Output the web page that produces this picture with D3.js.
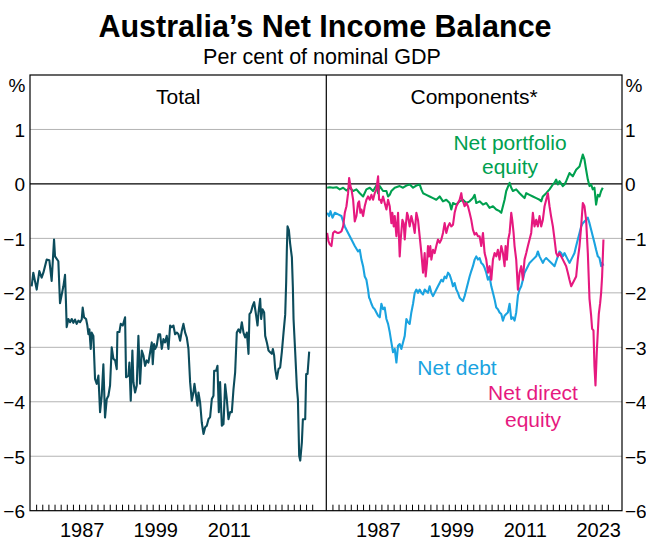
<!DOCTYPE html>
<html><head><meta charset="utf-8">
<script src="https://cdn.jsdelivr.net/npm/d3@7"></script>
<style>
body{margin:0;background:#fff}
svg{display:block}
text{font-family:"Liberation Sans",Arial,Helvetica,sans-serif;fill:#000}
</style>
</head><body>
<svg id="chart" width="646" height="541"></svg>
<script>
// ---- data (year, per cent of nominal GDP) ----
const totalData = [[1979.27,-1.88],[1979.54,-1.63],[1980.09,-1.94],[1980.52,-1.60],[1980.90,-1.72],[1981.18,-1.63],[1981.72,-1.39],[1982.15,-1.40],[1982.53,-1.78],[1982.92,-1.02],[1983.08,-1.33],[1983.62,-1.42],[1983.89,-2.19],[1984.44,-1.88],[1984.71,-1.67],[1984.87,-2.20],[1984.98,-2.63],[1985.25,-2.48],[1985.53,-2.54],[1985.80,-2.48],[1986.07,-2.55],[1986.34,-2.49],[1986.61,-2.57],[1986.88,-2.51],[1987.16,-2.54],[1987.43,-2.49],[1987.59,-2.27],[1987.81,-2.45],[1988.14,-2.48],[1988.35,-2.60],[1988.52,-2.76],[1988.68,-2.67],[1988.90,-3.03],[1989.06,-2.73],[1989.33,-2.79],[1989.60,-3.58],[1989.88,-3.67],[1990.15,-3.52],[1990.42,-4.19],[1990.69,-3.89],[1990.96,-3.31],[1991.23,-4.29],[1991.51,-3.95],[1991.78,-3.89],[1992.05,-3.70],[1992.32,-3.00],[1992.59,-3.21],[1992.87,-3.24],[1993.14,-3.40],[1993.25,-2.72],[1993.57,-2.72],[1993.79,-2.57],[1994.12,-2.60],[1994.50,-2.45],[1994.66,-3.55],[1995.04,-3.52],[1995.20,-3.28],[1995.42,-3.98],[1995.69,-3.06],[1995.86,-3.64],[1996.13,-3.83],[1996.40,-3.70],[1996.67,-2.79],[1996.94,-3.67],[1997.22,-3.06],[1997.49,-3.15],[1997.76,-3.34],[1998.03,-3.24],[1998.30,-3.28],[1998.58,-3.09],[1998.85,-2.91],[1999.01,-3.31],[1999.23,-2.94],[1999.39,-3.03],[1999.66,-2.97],[1999.94,-2.76],[2000.21,-2.76],[2000.48,-3.03],[2000.75,-2.85],[2001.02,-2.91],[2001.29,-2.79],[2001.57,-3.03],[2001.84,-2.60],[2002.11,-2.63],[2002.38,-2.60],[2002.65,-2.76],[2002.93,-2.73],[2003.20,-2.76],[2003.47,-2.88],[2003.74,-2.70],[2004.01,-2.57],[2004.29,-2.73],[2004.56,-2.82],[2004.83,-3.03],[2005.10,-3.64],[2005.37,-3.98],[2005.64,-3.83],[2005.81,-3.67],[2006.08,-3.89],[2006.30,-4.07],[2006.46,-3.83],[2006.73,-4.01],[2007.00,-4.38],[2007.28,-4.59],[2007.55,-4.47],[2007.82,-4.44],[2008.09,-4.32],[2008.36,-4.28],[2008.64,-3.95],[2008.91,-3.89],[2009.02,-3.43],[2009.34,-3.43],[2009.56,-3.34],[2009.78,-4.19],[2009.99,-3.64],[2010.27,-4.44],[2010.54,-4.41],[2010.81,-3.68],[2011.08,-3.95],[2011.35,-4.32],[2011.63,-4.19],[2011.90,-4.19],[2012.17,-3.77],[2012.44,-3.46],[2012.71,-2.73],[2012.99,-2.67],[2013.26,-2.73],[2013.53,-2.54],[2013.80,-2.73],[2014.07,-2.82],[2014.35,-2.73],[2014.62,-3.12],[2014.78,-2.39],[2015.00,-2.36],[2015.32,-2.23],[2015.54,-2.17],[2015.87,-2.42],[2016.09,-2.60],[2016.25,-2.36],[2016.52,-2.11],[2016.68,-2.48],[2016.90,-2.30],[2017.17,-2.36],[2017.34,-2.79],[2017.61,-2.91],[2017.88,-3.06],[2018.15,-3.09],[2018.42,-3.12],[2018.59,-3.03],[2018.80,-3.15],[2018.97,-3.40],[2019.24,-3.58],[2019.51,-3.40],[2019.78,-3.37],[2020.05,-3.09],[2020.33,-2.73],[2020.60,-2.40],[2020.76,-1.80],[2020.87,-1.20],[2020.98,-0.78],[2021.20,-0.85],[2021.41,-1.10],[2021.69,-1.35],[2021.85,-1.90],[2021.96,-2.48],[2022.23,-3.09],[2022.50,-3.73],[2022.67,-3.95],[2022.88,-4.99],[2023.05,-5.08],[2023.32,-4.74],[2023.48,-4.32],[2023.86,-4.32],[2024.02,-3.49],[2024.24,-3.49],[2024.51,-3.08]];

const portfolioData = [[1979.14,-0.07],[1979.57,-0.06],[1980.11,-0.07],[1980.66,-0.06],[1981.20,-0.10],[1981.75,-0.07],[1982.29,-0.12],[1982.83,-0.07],[1983.38,-0.13],[1983.92,-0.10],[1984.47,-0.17],[1985.01,-0.23],[1985.55,-0.10],[1986.10,-0.07],[1986.64,-0.13],[1987.18,-0.03],[1987.46,-0.17],[1987.73,-0.04],[1988.27,-0.13],[1988.82,-0.13],[1989.09,-0.23],[1989.36,-0.20],[1989.63,-0.13],[1990.18,-0.07],[1990.99,-0.04],[1991.53,-0.07],[1992.08,-0.03],[1992.62,-0.01],[1992.89,-0.04],[1993.17,-0.07],[1993.71,-0.03],[1994.25,-0.01],[1994.53,-0.10],[1994.80,-0.17],[1995.34,-0.20],[1995.88,-0.23],[1996.43,-0.26],[1996.97,-0.29],[1997.52,-0.23],[1998.06,-0.32],[1998.60,-0.29],[1999.15,-0.35],[1999.42,-0.47],[1999.69,-0.35],[2000.24,-0.38],[2000.78,-0.32],[2001.32,-0.29],[2001.87,-0.35],[2002.41,-0.32],[2002.95,-0.26],[2003.23,-0.20],[2003.50,-0.35],[2004.04,-0.32],[2004.59,-0.38],[2005.13,-0.35],[2005.67,-0.44],[2006.22,-0.41],[2006.76,-0.47],[2007.30,-0.50],[2007.58,-0.53],[2007.85,-0.41],[2008.12,-0.29],[2008.39,-0.13],[2008.94,0.02],[2009.21,-0.07],[2009.48,-0.13],[2010.02,-0.10],[2010.57,-0.17],[2011.11,-0.23],[2011.38,-0.26],[2011.66,-0.17],[2012.20,-0.20],[2012.74,-0.23],[2013.29,-0.26],[2013.83,-0.29],[2014.10,-0.32],[2014.37,-0.23],[2014.92,-0.17],[2015.46,-0.10],[2016.01,-0.01],[2016.28,0.02],[2016.55,0.08],[2016.82,-0.01],[2017.09,0.05],[2017.64,-0.04],[2017.91,-0.01],[2018.18,0.05],[2018.72,0.20],[2019.00,0.17],[2019.27,0.14],[2019.54,0.20],[2019.81,0.26],[2020.36,0.32],[2020.90,0.54],[2021.17,0.45],[2021.44,0.26],[2021.72,0.08],[2021.99,-0.04],[2022.26,-0.01],[2022.53,-0.10],[2022.80,-0.07],[2023.07,-0.38],[2023.35,-0.20],[2023.62,-0.23],[2023.89,-0.13],[2024.16,-0.07]];

const debtData = [[1979.14,-0.53],[1979.46,-0.59],[1979.68,-0.50],[1980.01,-0.62],[1980.39,-0.53],[1980.93,-0.56],[1981.47,-0.59],[1982.02,-0.78],[1982.56,-0.90],[1983.11,-1.02],[1983.65,-1.14],[1984.19,-1.24],[1984.47,-1.21],[1984.74,-1.39],[1985.01,-1.51],[1985.28,-1.70],[1985.55,-1.76],[1985.82,-1.94],[1985.99,-2.09],[1986.10,-2.11],[1986.37,-2.20],[1986.64,-2.27],[1986.91,-2.30],[1987.18,-2.36],[1987.46,-2.42],[1987.73,-2.45],[1988.00,-2.20],[1988.27,-2.30],[1988.54,-2.27],[1988.82,-2.48],[1989.09,-2.57],[1989.36,-2.72],[1989.63,-2.91],[1989.90,-3.09],[1990.18,-3.03],[1990.45,-3.28],[1990.72,-2.97],[1990.99,-2.94],[1991.26,-3.03],[1991.53,-2.91],[1991.81,-2.79],[1992.08,-2.48],[1992.35,-2.54],[1992.62,-2.57],[1992.89,-2.36],[1993.17,-2.20],[1993.44,-2.00],[1993.71,-1.94],[1993.98,-2.00],[1994.25,-1.94],[1994.53,-2.00],[1994.80,-2.03],[1995.07,-1.94],[1995.34,-1.97],[1995.61,-2.00],[1995.88,-1.88],[1996.16,-2.00],[1996.43,-2.06],[1996.70,-2.00],[1996.97,-1.94],[1997.24,-1.88],[1997.52,-1.82],[1997.79,-1.76],[1998.06,-1.79],[1998.33,-1.70],[1998.60,-1.73],[1998.88,-1.63],[1999.15,-1.67],[1999.42,-1.76],[1999.69,-1.88],[1999.96,-1.82],[2000.24,-1.94],[2000.51,-2.00],[2000.78,-2.09],[2001.05,-2.12],[2001.32,-2.15],[2001.59,-2.06],[2001.87,-1.94],[2002.14,-1.82],[2002.41,-1.70],[2002.68,-1.60],[2002.95,-1.51],[2003.23,-1.39],[2003.50,-1.33],[2003.77,-1.39],[2004.04,-1.36],[2004.31,-1.45],[2004.59,-1.48],[2004.86,-1.54],[2005.13,-1.63],[2005.40,-1.76],[2005.67,-1.70],[2005.95,-1.88],[2006.22,-2.00],[2006.49,-2.12],[2006.76,-2.27],[2007.03,-2.30],[2007.30,-2.36],[2007.58,-2.39],[2007.85,-2.51],[2008.12,-2.42],[2008.39,-2.39],[2008.66,-2.36],[2008.94,-2.20],[2009.21,-2.48],[2009.48,-2.45],[2009.75,-2.51],[2010.02,-2.36],[2010.30,-2.05],[2010.57,-1.94],[2010.84,-1.88],[2011.11,-1.76],[2011.38,-1.63],[2011.66,-1.57],[2011.93,-1.51],[2012.20,-1.45],[2012.74,-1.39],[2013.29,-1.33],[2013.56,-1.24],[2013.83,-1.33],[2014.10,-1.39],[2014.37,-1.45],[2014.65,-1.39],[2014.92,-1.36],[2015.19,-1.39],[2015.46,-1.42],[2016.01,-1.48],[2016.28,-1.51],[2016.55,-1.42],[2016.82,-1.33],[2017.09,-1.24],[2017.37,-1.27],[2017.64,-1.33],[2017.91,-1.27],[2018.18,-1.33],[2018.45,-1.39],[2018.72,-1.45],[2019.00,-1.39],[2019.27,-1.33],[2019.54,-1.27],[2019.81,-1.14],[2020.08,-1.02],[2020.36,-0.90],[2020.63,-0.78],[2020.90,-0.72],[2021.17,-0.69],[2021.44,-0.66],[2021.72,-0.62],[2021.99,-0.72],[2022.26,-0.84],[2022.53,-0.96],[2022.80,-1.08],[2023.07,-1.21],[2023.35,-1.33],[2023.62,-1.36],[2023.89,-1.51],[2024.05,-1.45],[2024.27,-1.50]];

const directData = [[1979.14,-0.90],[1979.35,-1.05],[1979.57,-1.11],[1979.84,-1.14],[1980.11,-0.90],[1980.39,-0.87],[1980.66,-0.89],[1980.93,-0.90],[1981.20,-0.89],[1981.47,-0.87],[1981.75,-0.78],[1982.02,-0.53],[1982.29,-0.41],[1982.56,-0.17],[1982.73,0.11],[1982.94,-0.04],[1983.11,-0.10],[1983.38,-0.29],[1983.65,-0.69],[1983.92,-0.59],[1984.19,-0.35],[1984.36,-0.32],[1984.57,-0.53],[1984.74,-0.47],[1985.01,-0.59],[1985.28,-0.41],[1985.55,-0.29],[1985.82,-0.23],[1986.10,-0.29],[1986.37,-0.20],[1986.64,-0.29],[1986.91,-0.17],[1987.18,-0.10],[1987.46,0.14],[1987.62,-0.29],[1987.84,-0.29],[1988.00,-0.35],[1988.27,-0.23],[1988.54,-0.35],[1988.82,-0.47],[1989.09,-0.29],[1989.36,-0.41],[1989.63,-0.72],[1989.79,-0.53],[1990.01,-0.78],[1990.18,-0.59],[1990.45,-0.96],[1990.72,-0.53],[1990.99,-1.33],[1991.15,-1.02],[1991.43,-0.66],[1991.64,-0.72],[1991.81,-1.02],[1991.97,-0.78],[1992.19,-0.53],[1992.35,-0.59],[1992.62,-0.78],[1992.89,-0.59],[1993.17,-0.72],[1993.44,-0.90],[1993.71,-0.53],[1993.98,-0.66],[1994.25,-0.96],[1994.53,-1.27],[1994.80,-1.63],[1995.07,-1.27],[1995.23,-1.70],[1995.45,-1.45],[1995.61,-1.14],[1995.78,-1.33],[1995.99,-1.14],[1996.16,-1.39],[1996.43,-1.21],[1996.70,-1.27],[1996.97,-1.14],[1997.24,-1.02],[1997.52,-1.08],[1997.79,-1.02],[1998.06,-0.90],[1998.33,-0.72],[1998.60,-0.90],[1998.88,-0.78],[1999.15,-0.72],[1999.42,-0.78],[1999.69,-0.75],[1999.96,-0.53],[2000.24,-0.41],[2000.51,-0.35],[2000.78,-0.29],[2001.05,-0.17],[2001.21,-0.29],[2001.43,-0.35],[2001.59,-0.41],[2001.87,-0.35],[2002.14,-0.41],[2002.41,-0.53],[2002.68,-0.66],[2002.95,-0.84],[2003.23,-0.93],[2003.50,-0.90],[2003.77,-0.96],[2004.04,-0.96],[2004.31,-1.14],[2004.59,-0.90],[2004.86,-1.27],[2005.13,-1.39],[2005.40,-1.63],[2005.67,-1.51],[2005.95,-1.76],[2006.22,-1.39],[2006.49,-1.27],[2006.76,-1.33],[2007.03,-1.21],[2007.30,-1.39],[2007.58,-1.14],[2007.85,-1.27],[2008.12,-1.51],[2008.28,-1.14],[2008.50,-1.39],[2008.72,-1.02],[2008.94,-0.90],[2009.21,-0.53],[2009.37,-0.66],[2009.59,-0.90],[2009.75,-1.14],[2010.02,-1.39],[2010.30,-1.94],[2010.57,-1.63],[2010.84,-1.51],[2011.11,-1.76],[2011.38,-1.39],[2011.66,-1.27],[2011.93,-1.14],[2012.20,-1.02],[2012.47,-0.90],[2012.74,-0.53],[2013.01,-0.78],[2013.29,-0.66],[2013.56,-0.78],[2013.83,-0.59],[2014.10,-0.78],[2014.37,-0.66],[2014.65,-0.41],[2014.92,-0.29],[2015.19,-0.17],[2015.46,-0.41],[2015.71,-0.59],[2016.01,-0.78],[2016.28,-1.02],[2016.55,-1.27],[2016.82,-1.33],[2017.09,-1.27],[2017.64,-1.39],[2018.18,-1.51],[2018.45,-1.63],[2018.72,-1.76],[2019.00,-1.88],[2019.27,-1.82],[2019.54,-1.76],[2019.81,-1.70],[2020.08,-1.39],[2020.36,-1.14],[2020.63,-0.78],[2020.90,-0.35],[2021.17,-0.41],[2021.44,-0.66],[2021.72,-1.27],[2021.99,-2.11],[2022.26,-2.42],[2022.42,-2.66],[2022.64,-2.69],[2022.80,-3.34],[2022.97,-3.70],[2023.18,-3.09],[2023.35,-2.72],[2023.51,-2.39],[2023.73,-2.19],[2023.89,-2.00],[2024.05,-1.70],[2024.27,-1.02]];

const yTickValues = [1, 0, -1, -2, -3, -4, -5, -6];
const yearTickValues = d3.range(1980, 2026);
const leftYearLabels = [1987, 1999, 2011];
const rightYearLabels = [1987, 1999, 2011, 2023];

const colors = {total:"#0c4c5c", portfolio:"#00a04f", debt:"#1aa3e0", direct:"#e6197f"};

// ---- layout ----
const svg = d3.select("#chart");
const plotTop = 75, plotBottom = 510.7;
const leftPanel = [30, 326.3];
const rightPanel = [326.3, 622];
const xDomain = [1979, 2027.3];

const y = d3.scaleLinear().domain([-6, 2]).range([plotBottom, plotTop]);
const xL = d3.scaleLinear().domain(xDomain).range(leftPanel);
const xR = d3.scaleLinear().domain(xDomain).range(rightPanel);

// title
svg.append("text").attr("x", 325).attr("y", 37).attr("text-anchor","middle")
  .style("font-size","30.5px").style("font-weight","bold").text("Australia’s Net Income Balance");
svg.append("text").attr("x", 322).attr("y", 64).attr("text-anchor","middle")
  .style("font-size","21.5px").text("Per cent of nominal GDP");

// gridlines
[ [xL, leftPanel], [xR, rightPanel] ].forEach(([xs, r]) => {
  svg.append("g").selectAll("line").data(yTickValues.filter(v => v !== 0 && v !== -6))
    .join("line").attr("x1", r[0]).attr("x2", r[1])
    .attr("y1", d => y(d)).attr("y2", d => y(d))
    .attr("stroke", "#b3b3b3").attr("stroke-width", 1);
});

// zero line
svg.append("line").attr("x1", leftPanel[0]).attr("x2", rightPanel[1])
  .attr("y1", y(0)).attr("y2", y(0)).attr("stroke", "#000").attr("stroke-width", 1.2);

// lines
const mk = xs => d3.line().x(d => xs(d[0])).y(d => y(d[1]));
function drawLine(data, xs, color){
  svg.append("path").datum(data).attr("d", mk(xs)).attr("fill","none")
    .attr("stroke", color).attr("stroke-width", 2.1).attr("stroke-linejoin","round");
}
drawLine(totalData, xL, colors.total);
drawLine(portfolioData, xR, colors.portfolio);
drawLine(debtData, xR, colors.debt);
drawLine(directData, xR, colors.direct);

// frame
svg.append("rect").attr("x", leftPanel[0]).attr("y", plotTop)
  .attr("width", rightPanel[1] - leftPanel[0]).attr("height", plotBottom - plotTop)
  .attr("fill","none").attr("stroke","#000").attr("stroke-width",1.2);
svg.append("line").attr("x1", leftPanel[1]).attr("x2", leftPanel[1])
  .attr("y1", plotTop).attr("y2", plotBottom).attr("stroke","#000").attr("stroke-width",1.2);

// x axes (ticks upward from bottom, labels centred in year)
function xAxis(xs, labels){
  const g = svg.append("g").attr("transform", `translate(0,${plotBottom})`);
  g.call(d3.axisBottom(xs).tickValues(yearTickValues).tickSize(-6).tickFormat(""));
  g.select(".domain").remove();
  g.selectAll(".tick line").attr("stroke","#000").attr("stroke-width",1);
  svg.append("g").selectAll("text").data(labels).join("text")
    .attr("x", d => xs(d + 0.5)).attr("y", 537).attr("text-anchor","middle")
    .style("font-size","20px").text(d => d);
}
xAxis(xL, leftYearLabels);
xAxis(xR, rightYearLabels);

// y axes
const yl = svg.append("g").attr("transform", `translate(${leftPanel[0]},0)`)
  .call(d3.axisLeft(y).tickValues(yTickValues).tickSize(0).tickPadding(5).tickFormat(d3.format("d")));
yl.select(".domain").remove();
yl.selectAll("text").style("font-size","19px").attr("dy","0.36em").style("font-family",'"Liberation Sans",Arial,sans-serif');
const yr = svg.append("g").attr("transform", `translate(${rightPanel[1]},0)`)
  .call(d3.axisRight(y).tickValues(yTickValues).tickSize(0).tickPadding(3).tickFormat(d3.format("d")));
yr.select(".domain").remove();
yr.selectAll("text").style("font-size","19px").attr("dy","0.36em").style("font-family",'"Liberation Sans",Arial,sans-serif');

svg.append("text").attr("x", 17).attr("y", 92).attr("text-anchor","middle").style("font-size","19px").text("%");
svg.append("text").attr("x", 634).attr("y", 92).attr("text-anchor","middle").style("font-size","19px").text("%");

// panel titles
svg.append("text").attr("x", (leftPanel[0]+leftPanel[1])/2).attr("y", 104).attr("text-anchor","middle")
  .style("font-size","21px").text("Total");
svg.append("text").attr("x", (rightPanel[0]+rightPanel[1])/2).attr("y", 104).attr("text-anchor","middle")
  .style("font-size","21px").text("Components*");

// series labels
function lbl(x, yy, t, c){
  svg.append("text").attr("x", x).attr("y", yy).attr("text-anchor","middle")
    .style("font-size","21px").style("fill", c).text(t);
}
lbl(510, 150, "Net portfolio", colors.portfolio);
lbl(510, 174, "equity", colors.portfolio);
lbl(457, 375, "Net debt", colors.debt);
lbl(533, 400, "Net direct", colors.direct);
lbl(533, 427, "equity", colors.direct);
</script>
</body></html>
